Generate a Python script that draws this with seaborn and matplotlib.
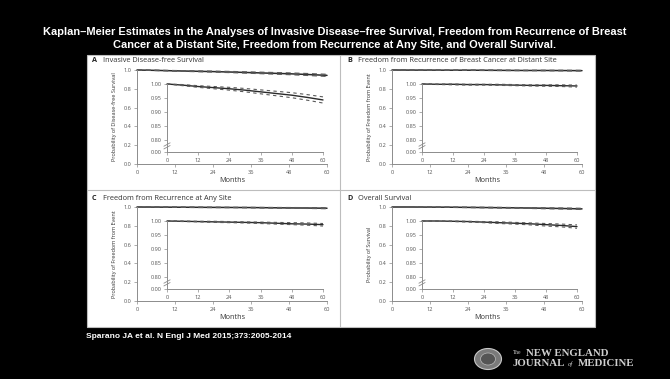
import numpy as np
import pandas as pd
import matplotlib.pyplot as plt
from matplotlib.patches import Rectangle, Ellipse
from matplotlib.lines import Line2D
import seaborn as sns

# ---- data ----
months = [0, 6, 12, 18, 24, 30, 36, 42, 48, 54, 60]

idfs = [1.000, 0.996, 0.991, 0.987, 0.983, 0.978, 0.972, 0.966, 0.960, 0.952, 0.943]
idfs_hi = [1.000, 0.998, 0.994, 0.991, 0.988, 0.984, 0.979, 0.974, 0.969, 0.962, 0.954]
idfs_lo = [1.000, 0.994, 0.988, 0.983, 0.978, 0.972, 0.965, 0.958, 0.951, 0.942, 0.932]

distant = [1.000, 0.999, 0.999, 0.998, 0.998, 0.997, 0.996, 0.995, 0.995, 0.994, 0.993]
distant_hi = [1.000, 1.000, 1.000, 0.999, 0.999, 0.999, 0.998, 0.997, 0.997, 0.997, 0.996]
distant_lo = [1.000, 0.998, 0.997, 0.996, 0.996, 0.995, 0.994, 0.993, 0.992, 0.991, 0.989]

anysite = [1.000, 0.999, 0.998, 0.997, 0.996, 0.995, 0.994, 0.992, 0.990, 0.989, 0.987]
anysite_hi = [1.000, 1.000, 0.999, 0.999, 0.998, 0.997, 0.996, 0.995, 0.994, 0.993, 0.991]
anysite_lo = [1.000, 0.998, 0.997, 0.995, 0.994, 0.993, 0.991, 0.989, 0.987, 0.985, 0.982]

os_ = [1.000, 1.000, 0.999, 0.998, 0.996, 0.994, 0.992, 0.990, 0.987, 0.984, 0.980]
os_hi = [1.000, 1.000, 1.000, 0.999, 0.998, 0.997, 0.995, 0.993, 0.991, 0.989, 0.986]
os_lo = [1.000, 0.999, 0.998, 0.996, 0.994, 0.991, 0.989, 0.986, 0.982, 0.979, 0.974]

panel_letters = ["A", "B", "C", "D"]
panel_titles = ["Invasive Disease-free Survival",
                "Freedom from Recurrence of Breast Cancer at Distant Site",
                "Freedom from Recurrence at Any Site",
                "Overall Survival"]
y_labels = ["Probability of Disease-free Survival",
            "Probability of Freedom from Event",
            "Probability of Freedom from Event",
            "Probability of Survival"]
series = [(idfs, idfs_hi, idfs_lo), (distant, distant_hi, distant_lo),
          (anysite, anysite_hi, anysite_lo), (os_, os_hi, os_lo)]

main_xticks = [0, 12, 24, 36, 48, 60]
main_yticks = [0.0, 0.2, 0.4, 0.6, 0.8, 1.0]
inset_yticks = [0.757, 0.80, 0.85, 0.90, 0.95, 1.00]
inset_ylabels = ["0.00", "0.80", "0.85", "0.90", "0.95", "1.00"]

W, H = 670, 379

sns.set_theme(style="white")
plt.rcParams['font.family'] = ['Open Sans', 'DejaVu Sans']

fig = plt.figure(figsize=(W / 100, H / 100), dpi=100, facecolor='black')


def fbox(x0, y0, x1, y1):
    # pixel box (top-left origin) -> figure fraction rect
    return [x0 / W, 1 - y1 / H, (x1 - x0) / W, (y1 - y0) / H]


# white panel + dividers
fig.patches.append(Rectangle((87 / W, 1 - 327 / H), (595 - 87) / W, (327 - 55) / H,
                             transform=fig.transFigure, facecolor='white',
                             edgecolor='#bdbdbd', lw=0.8, zorder=-5))
fig.add_artist(Line2D([340 / W, 340 / W], [1 - 327 / H, 1 - 55 / H], color='#bdbdbd', lw=0.8, zorder=-4))
fig.add_artist(Line2D([87 / W, 595 / W], [1 - 190 / H, 1 - 190 / H], color='#bdbdbd', lw=0.8, zorder=-4))

fig.text(0.5, 1 - 32 / H, "Kaplan\u2013Meier Estimates in the Analyses of Invasive Disease\u2013free Survival, Freedom from Recurrence of Breast",
         ha='center', va='center', color='white', fontsize=7.9, fontweight='bold', family='Liberation Sans')
fig.text(0.5, 1 - 44.5 / H, "Cancer at a Distant Site, Freedom from Recurrence at Any Site, and Overall Survival.",
         ha='center', va='center', color='white', fontsize=7.9, fontweight='bold', family='Liberation Sans')

gray = '#555555'
spine_c = '#8c8c8c'
curve_c = '#2a2a2a'
ci_c = '#5a5a5a'
offsets = [(0, 0), (255, 0), (0, 137), (255, 137)]

for i, (dx, dy) in enumerate(offsets):
    est, hi, lo = series[i]
    df = pd.DataFrame({'Months': months, 'est': est, 'hi': hi, 'lo': lo})

    # panel label
    fig.text((92 + dx) / W, 1 - (61 + dy) / H, panel_letters[i], fontsize=5.2, fontweight='bold',
             color='#222222', va='center', ha='left')
    fig.text((103 + dx) / W, 1 - (61 + dy) / H, panel_titles[i], fontsize=5.3,
             color='#333333', va='center', ha='left')

    # main axes
    ax = fig.add_axes(fbox(137 + dx, 70 + dy, 327 + dx, 164 + dy))
    ax.set_facecolor('none')
    sns.lineplot(data=df, x='Months', y='est', ax=ax, color=curve_c, lw=1.1, clip_on=False)
    for c in ['hi', 'lo']:
        sns.lineplot(data=df, x='Months', y=c, ax=ax, color=ci_c, lw=0.9,
                     linestyle=(0, (4, 3)), clip_on=False)
    ax.set_xlim(0, 60)
    ax.set_ylim(0, 1.0)
    ax.set_xticks(main_xticks)
    ax.set_yticks(main_yticks)
    ax.set_yticklabels([f"{v:.1f}" for v in main_yticks])
    ax.set_xlabel("Months", fontsize=5.2, color='#333333', labelpad=2)
    ax.set_ylabel(y_labels[i], fontsize=4.0, color='#333333', labelpad=5)
    for s in ['top', 'right']:
        ax.spines[s].set_visible(False)
    for s in ['left', 'bottom']:
        ax.spines[s].set_color(spine_c)
        ax.spines[s].set_linewidth(0.7)
    ax.tick_params(direction='out', length=2, width=0.5, color=spine_c,
                   labelsize=4.1, labelcolor=gray, pad=2, left=True, bottom=True)

    # inset with broken axis
    ix0 = 167 + dx if dx == 0 else 422
    ix1 = 323 + dx if dx == 0 else 577
    ins = fig.add_axes(fbox(ix0, 84 + dy, ix1, 152 + dy))
    ins.set_facecolor('white')
    sns.lineplot(data=df, x='Months', y='est', ax=ins, color=curve_c, lw=1.0, clip_on=False)
    for c in ['hi', 'lo']:
        sns.lineplot(data=df, x='Months', y=c, ax=ins, color=ci_c, lw=0.8,
                     linestyle=(0, (3, 3)), clip_on=False)
    ins.set_xlim(0, 60)
    ins.set_ylim(0.757, 1.0)
    ins.set_xticks(main_xticks)
    ins.set_yticks(inset_yticks)
    ins.set_yticklabels(inset_ylabels)
    ins.set_xlabel("")
    ins.set_ylabel("")
    for s in ['top', 'right']:
        ins.spines[s].set_visible(False)
    for s in ['left', 'bottom']:
        ins.spines[s].set_color(spine_c)
        ins.spines[s].set_linewidth(0.7)
    ins.tick_params(direction='out', length=2, width=0.5, color=spine_c,
                    labelsize=4.1, labelcolor=gray, pad=2, left=True, bottom=True)
    # break marks on the inset y axis
    for yb in (0.07, 0.11):
        ins.plot([-0.02, 0.02], [yb - 0.025, yb + 0.025], transform=ins.transAxes,
                 color=spine_c, lw=0.6, clip_on=False)

fig.text(86 / W, 1 - 336 / H, "Sparano JA et al. N Engl J Med 2015;373:2005-2014",
         color='white', fontsize=6.0, fontweight='bold', family='Liberation Sans', va='center')

# NEJM mark
fig.patches.append(Ellipse((488 / W, 1 - 359 / H), 27 / W, 21 / H, transform=fig.transFigure,
                           facecolor='#7a7a7a', edgecolor='#c8c8c8', lw=0.8))
fig.patches.append(Ellipse((488 / W, 1 - 359 / H), 15 / W, 12 / H, transform=fig.transFigure,
                           facecolor='#555555', edgecolor='#bbbbbb', lw=0.5))
logo_c = '#cfcfcf'
fig.text(513 / W, 1 - 353 / H, "The", color=logo_c, fontsize=4.0,
         family='Liberation Serif', va='center')
fig.text(526 / W, 1 - 353 / H, "NEW ENGLAND", color=logo_c, fontsize=7.8,
         fontweight='bold', family='Liberation Serif', va='center')
fig.text(513 / W, 1 - 364 / H, "JOURNAL", color=logo_c, fontsize=7.8,
         fontweight='bold', family='Liberation Serif', va='center')
fig.text(568 / W, 1 - 364 / H, "of", color=logo_c, fontsize=4.8, style='italic',
         family='Liberation Serif', va='center')
fig.text(578 / W, 1 - 364 / H, "MEDICINE", color=logo_c, fontsize=7.8,
         fontweight='bold', family='Liberation Serif', va='center')

fig.savefig("out.png", dpi=100, facecolor='black')
